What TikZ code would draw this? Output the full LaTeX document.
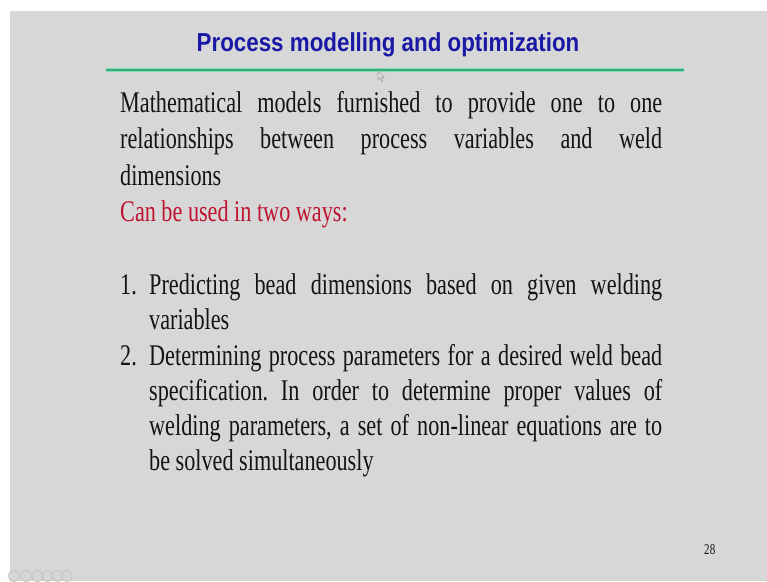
\documentclass[tikz,border=0pt]{standalone}
\usepackage{fontspec}
\newfontfamily\bodyfont[FakeStretch=0.74]{Liberation Serif}
\newfontfamily\titlefont[FakeStretch=0.86]{Liberation Sans}
\frenchspacing
\definecolor{slidebg}{HTML}{D7D7D7}
\definecolor{titleblue}{HTML}{1919A5}
\definecolor{rulegreen}{HTML}{33AE7E}
\definecolor{rulelight}{HTML}{8AD9B7}
\definecolor{emred}{HTML}{BE1430}
\definecolor{ink}{HTML}{141414}
\definecolor{navgray}{HTML}{C9C9C9}
\tikzset{
  txt/.style={anchor=base west, inner sep=0pt, text=ink, font=\bodyfont\fontsize{30}{36}\selectfont},
  navicon/.style={draw=navgray, line width=1.3pt},
}
\newcommand{\jline}[1]{\makebox[542pt][s]{#1}}
\newcommand{\jitem}[1]{\makebox[513pt][s]{#1}}
\begin{document}
\begin{tikzpicture}[x=1pt,y=-1pt]
  % page and slide area
  \fill[white] (0,0) rectangle (767,581);
  \fill[slidebg] (10,11) rectangle (767,581);
  \useasboundingbox (0,0) rectangle (767,581);

  % title and rule
  \node[anchor=base, inner sep=0pt, text=titleblue, font=\titlefont\bfseries\fontsize{26}{30}\selectfont] (title) at (388,51) {Process modelling and optimization};
  \coordinate (ruleL) at (106,70);
  \coordinate (ruleR) at (684,70);
  \draw[rulelight, line width=4.5pt] (ruleL) -- (ruleR);
  \draw[rulegreen, line width=2pt] (ruleL) -- (ruleR);

  % mouse pointer
  \draw[gray!70, line width=0.6pt, fill=slidebg!90!white] (378,71) -- (378,80) -- (380.2,78) -- (381.8,81.5) -- (383,81) -- (381.5,77.6) -- (384.3,77.4) -- cycle;

  % introductory paragraph
  \node[txt] (p1) at (120,112) {\jline{Mathematical models furnished to provide one to one}};
  \node[txt] (p2) at (120,148.5) {\jline{relationships between process variables and weld}};
  \node[txt] (p3) at (120,185) {dimensions};
  \node[txt, text=emred] (p4) at (120,221.5) {Can be used in two ways:};

  % numbered list
  \node[txt] (n1) at (120,294.5) {1.};
  \node[txt] (i1a) at (149,294.5) {\jitem{Predicting bead dimensions based on given welding}};
  \node[txt] (i1b) at (149,329.5) {variables};
  \node[txt] (n2) at (120,365) {2.};
  \node[txt] (i2a) at (149,365) {\jitem{Determining process parameters for a desired weld bead}};
  \node[txt] (i2b) at (149,400) {\jitem{specification. In order to determine proper values of}};
  \node[txt] (i2c) at (149,435) {\jitem{welding parameters, a set of non-linear equations are to}};
  \node[txt] (i2d) at (149,470) {be solved simultaneously};

  % page number
  \node[anchor=base west, inner sep=0pt, text=ink, font=\bodyfont\fontsize{15}{15}\selectfont] (pg) at (704,554) {28};

  % faint navigation icons
  \foreach \cx [count=\k] in {14,26,37.5,47.5,57.5,67}
    \draw[navicon] (\cx,576) circle (5.5);
\end{tikzpicture}
\end{document}
